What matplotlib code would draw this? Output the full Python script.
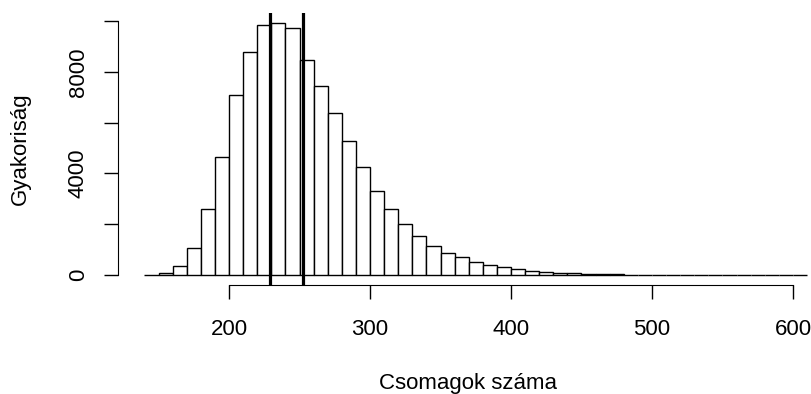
import numpy as np
import matplotlib
matplotlib.use("Agg")
from matplotlib import pyplot as plt

# hisztogram adatai (10-es osztalyszelesseg)
bin_start = 140
bin_width = 10
counts = [15, 80, 370, 1080, 2600, 4650, 7070, 8770, 9840, 9930,
          9710, 8480, 7440, 6390, 5280, 4240, 3300, 2590, 2000, 1540,
          1150, 870, 700, 520, 400, 310, 220, 160, 100, 80,
          60, 45, 35, 25, 20, 15, 12, 9, 7, 5,
          4, 3, 2, 2, 3, 1, 1]
vlines = [229.3, 252.8]

x_ticks = [200, 300, 400, 500, 600]
y_ticks = [0, 2000, 4000, 6000, 8000, 10000]
y_labels = ["0", "", "4000", "", "8000", ""]

plt.rcParams["font.family"] = ["Liberation Sans", "DejaVu Sans"]

W, H = 811, 394
fig = plt.figure(figsize=(W / 100, H / 100), dpi=100)
left, right, top, bottom = 117.9, 833.6, 12.7, 285.1
ax = fig.add_axes([left / W, 1 - bottom / H, (right - left) / W, (bottom - top) / H])

edges = bin_start + bin_width * np.arange(len(counts) + 1)
ax.bar(edges[:-1], counts, width=bin_width, align="edge",
       facecolor="white", edgecolor="black", linewidth=1.0)
for v in vlines:
    ax.axvline(v, color="black", linewidth=2.3)

lo, hi = edges[0], edges[-1]
ax.set_xlim(lo - 0.04 * (hi - lo), hi + 0.04 * (hi - lo))
ymax = max(counts)
ax.set_ylim(-0.04 * ymax, 1.04 * ymax)

for s in ["top", "right"]:
    ax.spines[s].set_visible(False)
ax.spines["bottom"].set_bounds(x_ticks[0], x_ticks[-1])
ax.spines["left"].set_bounds(y_ticks[0], y_ticks[-1])

ax.set_xticks(x_ticks)
ax.set_yticks(y_ticks)
ax.set_yticklabels(y_labels, rotation=90, va="center")
ax.tick_params(direction="out", length=10, width=1, labelsize=16)
ax.tick_params(axis="x", pad=14.5)
ax.tick_params(axis="y", pad=11)

fig.text(20 / W, 1 - 149 / H, "Gyakoriság", rotation=90, ha="center", va="center", fontsize=16)
fig.text(468 / W, 1 - 384 / H, "Csomagok száma", ha="center", va="center", fontsize=16)

fig.savefig("out.png", dpi=100)
